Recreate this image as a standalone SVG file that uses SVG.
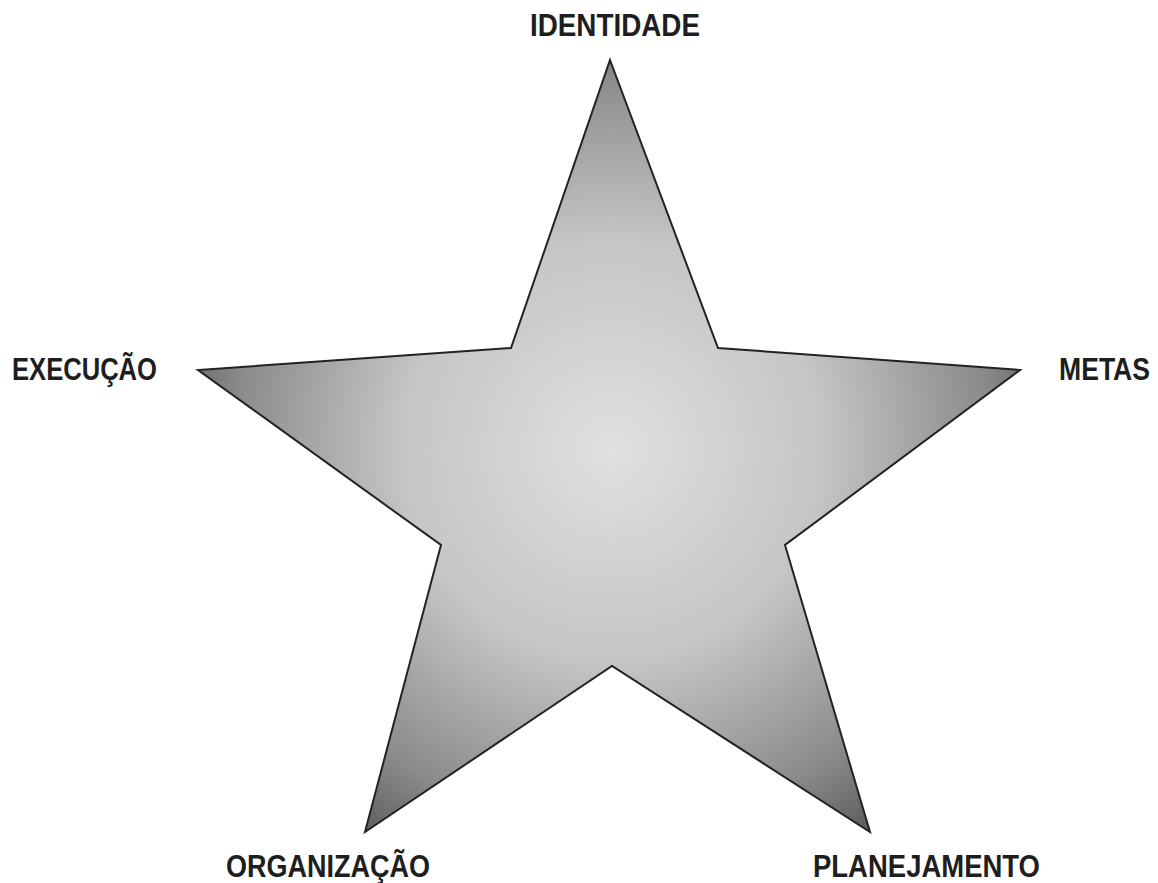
<svg xmlns="http://www.w3.org/2000/svg" width="1158" height="883" viewBox="0 0 1158 883">
<defs>
<radialGradient id="g" gradientUnits="userSpaceOnUse" cx="612" cy="450" r="470">
<stop offset="0" stop-color="#dfe0e0"/>
<stop offset="0.45" stop-color="#c4c5c6"/>
<stop offset="0.8" stop-color="#8a8b8c"/>
<stop offset="1" stop-color="#555657"/>
</radialGradient>
<style>
.l{font-family:"Liberation Sans",Arial,sans-serif;font-weight:bold;font-size:32px;fill:#1e1e1e}
</style>
</defs>
<rect width="1158" height="883" fill="#ffffff"/>
<g id="star">
<polygon points="610,60 718,348 1020,370 785,545 870,832 612,666 365,832 441,545 198,370 511,348" fill="url(#g)" stroke="#222" stroke-width="2" stroke-linejoin="miter"/>
</g>
<g id="identidade"><text class="l" x="530" y="36" textLength="170" lengthAdjust="spacingAndGlyphs">IDENTIDADE</text></g>
<g id="metas"><text class="l" transform="translate(1150,380) scale(0.83,1)" text-anchor="end">METAS</text></g>
<g id="execucao"><text class="l" x="12" y="380" textLength="145" lengthAdjust="spacingAndGlyphs">EXECUÇÃO</text></g>
<g id="organizacao"><text class="l" x="226" y="877" textLength="204" lengthAdjust="spacingAndGlyphs">ORGANIZAÇÃO</text></g>
<g id="planejamento"><text class="l" x="813" y="877" textLength="227" lengthAdjust="spacingAndGlyphs">PLANEJAMENTO</text></g>
</svg>
